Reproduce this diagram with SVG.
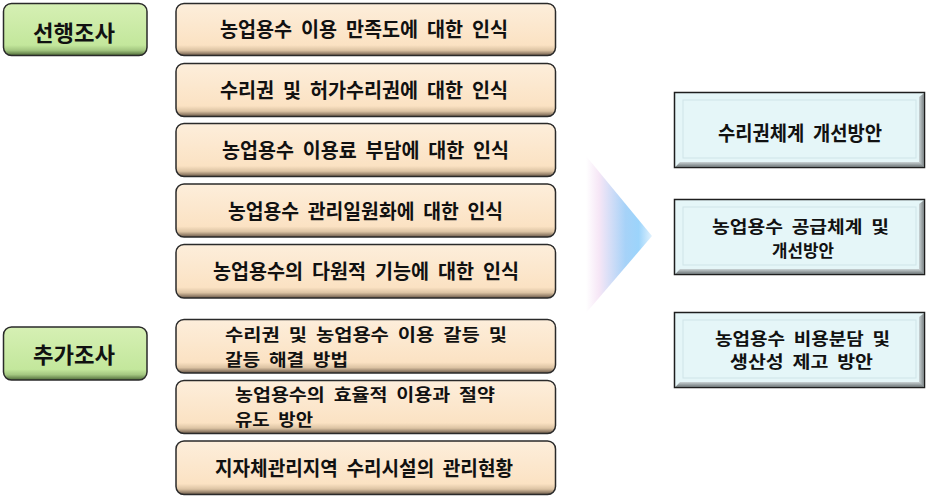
<svg xmlns="http://www.w3.org/2000/svg" width="928" height="498" viewBox="0 0 928 498">
<defs>
<linearGradient id="gPeach" x1="0" y1="0" x2="0" y2="1">
<stop offset="0" stop-color="#fdeedb"/>
<stop offset="0.8" stop-color="#fbe2c3"/>
<stop offset="0.9" stop-color="#dcc3a3"/>
<stop offset="1" stop-color="#6a5848"/>
</linearGradient>
<linearGradient id="gGreen" x1="0" y1="0" x2="0" y2="1">
<stop offset="0" stop-color="#d6f0b4"/>
<stop offset="0.8" stop-color="#c3e79c"/>
<stop offset="0.9" stop-color="#a3c680"/>
<stop offset="1" stop-color="#4e6a38"/>
</linearGradient>
<linearGradient id="gArrow" x1="0" y1="0" x2="1" y2="0">
<stop offset="0" stop-color="#ffffff"/>
<stop offset="0.2" stop-color="#f6e6f6"/>
<stop offset="0.6" stop-color="#a6d2f8"/>
<stop offset="0.8" stop-color="#9cd4fb"/>
<stop offset="1" stop-color="#e2f2fd"/>
</linearGradient>
<linearGradient id="gBevB" x1="0" y1="0" x2="0" y2="1">
<stop offset="0" stop-color="#c9d2d4"/>
<stop offset="1" stop-color="#6d7577"/>
</linearGradient>
<linearGradient id="gBevR" x1="0" y1="0" x2="1" y2="0">
<stop offset="0" stop-color="#c9d2d4"/>
<stop offset="1" stop-color="#7b8385"/>
</linearGradient>
</defs>
<style>
.peach{fill:url(#gPeach);stroke:#2a2a2a;stroke-width:1.5}
.green{fill:url(#gGreen);stroke:#2a2a2a;stroke-width:1.5}
.cyan{fill:#e5f6f8;stroke:#1e1e1e;stroke-width:1.5}
.inner{fill:none;stroke:#cfe4e8;stroke-width:1}
.bevB{fill:url(#gBevB)}
.bevR{fill:url(#gBevR)}
text{font-family:"Noto Sans CJK KR","Noto Sans",sans-serif;font-weight:bold;fill:#111;font-size:20px;white-space:pre}
.c{text-anchor:middle}
.g{font-size:22px}
.s{font-size:17px}
</style>
<rect width="928" height="498" fill="#ffffff"/>

<g id="connectors">
<polygon points="586,156 652,236 586,313" fill="url(#gArrow)"/>
</g>

<g id="survey-prior">
<rect class="green" x="3.5" y="3.5" width="143.5" height="52" rx="8"/>
<text class="c g" x="74" y="41" textLength="82" lengthAdjust="spacingAndGlyphs">선행조사</text>
</g>
<g id="survey-additional">
<rect class="green" x="3.5" y="327" width="143.5" height="53" rx="8"/>
<text class="c g" x="74" y="363" textLength="82" lengthAdjust="spacingAndGlyphs">추가조사</text>
</g>

<g id="item1">
<rect class="peach" x="176" y="3.5" width="379.5" height="52" rx="8"/>
<text xml:space="preserve" class="c" x="364" y="37" textLength="288" lengthAdjust="spacingAndGlyphs">농업용수  이용  만족도에  대한  인식</text>
</g>
<g id="item2">
<rect class="peach" x="176" y="63.5" width="379.5" height="53" rx="8"/>
<text xml:space="preserve" class="c" x="364" y="97.5" textLength="288" lengthAdjust="spacingAndGlyphs">수리권  및  허가수리권에  대한  인식</text>
</g>
<g id="item3">
<rect class="peach" x="176" y="123.5" width="379.5" height="53" rx="8"/>
<text xml:space="preserve" class="c" x="365.5" y="158" textLength="287" lengthAdjust="spacingAndGlyphs">농업용수  이용료  부담에  대한  인식</text>
</g>
<g id="item4">
<rect class="peach" x="176" y="184" width="379.5" height="53" rx="8"/>
<text xml:space="preserve" class="c" x="365.5" y="218.5" textLength="275" lengthAdjust="spacingAndGlyphs">농업용수  관리일원화에  대한  인식</text>
</g>
<g id="item5">
<rect class="peach" x="176" y="244.5" width="379.5" height="53.5" rx="8"/>
<text xml:space="preserve" class="c" x="366" y="279" textLength="306" lengthAdjust="spacingAndGlyphs">농업용수의  다원적  기능에  대한  인식</text>
</g>
<g id="item6">
<rect class="peach" x="176" y="319.5" width="379.5" height="53.5" rx="8"/>
<text xml:space="preserve" class="s" x="225" y="341" textLength="282" lengthAdjust="spacingAndGlyphs">수리권  및  농업용수  이용  갈등  및</text>
<text xml:space="preserve" class="s" x="225" y="366" textLength="123" lengthAdjust="spacingAndGlyphs">갈등  해결  방법</text>
</g>
<g id="item7">
<rect class="peach" x="176" y="380.5" width="379.5" height="53" rx="8"/>
<text xml:space="preserve" class="s" x="235" y="401" textLength="260" lengthAdjust="spacingAndGlyphs">농업용수의  효율적  이용과  절약</text>
<text xml:space="preserve" class="s" x="235" y="426" textLength="78" lengthAdjust="spacingAndGlyphs">유도  방안</text>
</g>
<g id="item8">
<rect class="peach" x="176" y="441" width="379.5" height="53.5" rx="8"/>
<text xml:space="preserve" class="c" x="364" y="476" textLength="298" lengthAdjust="spacingAndGlyphs">지자체관리지역  수리시설의  관리현황</text>
</g>

<g id="result1">
<rect class="cyan" x="674.5" y="92.5" width="250" height="75"/>
<polygon class="bevB" points="675.3,167 924,167 924,162 680,162"/>
<polygon class="bevR" points="924,93.3 924,167 919,162 919,97"/>
<rect class="inner" x="683" y="100" width="233" height="58"/>
<text xml:space="preserve" class="c" x="800" y="141" textLength="164" lengthAdjust="spacingAndGlyphs">수리권체계  개선방안</text>
</g>
<g id="result2">
<rect class="cyan" x="674.5" y="199.5" width="250" height="75"/>
<polygon class="bevB" points="675.3,274 924,274 924,269 680,269"/>
<polygon class="bevR" points="924,200.3 924,274 919,269 919,204"/>
<rect class="inner" x="683" y="207" width="233" height="58"/>
<text xml:space="preserve" class="c s" x="800.5" y="233" textLength="177" lengthAdjust="spacingAndGlyphs">농업용수  공급체계  및</text>
<text xml:space="preserve" class="c s" x="803" y="257" textLength="62" lengthAdjust="spacingAndGlyphs">개선방안</text>
</g>
<g id="result3">
<rect class="cyan" x="674.5" y="312.5" width="250" height="75"/>
<polygon class="bevB" points="675.3,387 924,387 924,382 680,382"/>
<polygon class="bevR" points="924,313.3 924,387 919,382 919,317"/>
<rect class="inner" x="683" y="320" width="233" height="58"/>
<text xml:space="preserve" class="c s" x="802.5" y="345" textLength="175" lengthAdjust="spacingAndGlyphs">농업용수  비용분담  및</text>
<text xml:space="preserve" class="c s" x="801.5" y="368" textLength="143" lengthAdjust="spacingAndGlyphs">생산성  제고  방안</text>
</g>
</svg>
